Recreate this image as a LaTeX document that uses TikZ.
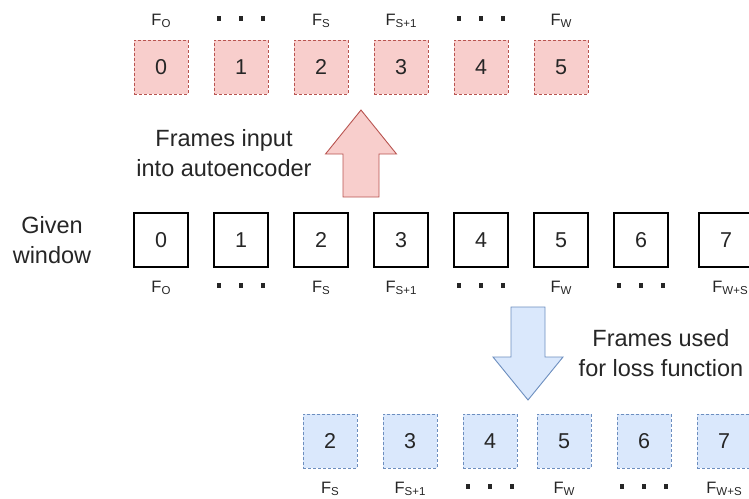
\documentclass[tikz,border=0pt]{standalone}
\usepackage{fontspec}
\setmainfont{Liberation Sans}
\definecolor{redfill}{HTML}{F8CECC}
\definecolor{redline}{HTML}{B85450}
\definecolor{bluefill}{HTML}{DAE8FC}
\definecolor{blueline}{HTML}{6C8EBF}
\definecolor{txt}{HTML}{262626}
\newcommand{\Flab}[1]{{\fontsize{16.5}{16.5}\selectfont F}\raisebox{-2.5pt}{\fontsize{11.5}{11.5}\selectfont #1}}
\newcommand{\sqdots}{\rule{4.5pt}{4.5pt}\hspace{17.5pt}\rule{4.5pt}{4.5pt}\hspace{17.5pt}\rule{4.5pt}{4.5pt}}
\begin{document}
\begin{tikzpicture}[x=1pt,y=-1pt,
  framebox/.style={rectangle, minimum size=54pt, inner sep=0pt, text=txt, font=\fontsize{21.5}{21.5}\selectfont},
  redbox/.style={framebox, draw=redline, fill=redfill, line width=0.9pt, dash pattern=on 3pt off 2pt},
  bluebox/.style={framebox, draw=blueline, fill=bluefill, line width=0.9pt, dash pattern=on 3pt off 2pt},
  blkbox/.style={framebox, draw=black, fill=white, line width=1.1pt},
  flabel/.style={anchor=base, inner sep=0pt, text=txt},
  dotsnode/.style={inner sep=0pt, text=txt},
  caption/.style={align=center, text=txt, font=\fontsize{23.5}{30}\selectfont, inner sep=0pt}]
\useasboundingbox (0,0) rectangle (749,498);
\clip (0,0) rectangle (749,498);

% top red row
\foreach \i in {0,...,5} {
  \node[redbox] (r\i) at (161+80*\i,67) {\i};
}
\node[flabel] (rl0) at (161,25) {\Flab{O}};
\node[dotsnode] (rl1) at (241,18.5) {\sqdots};
\node[flabel] (rl2) at (321,25) {\Flab{S}};
\node[flabel] (rl3) at (401,25) {\Flab{S+1}};
\node[dotsnode] (rl4) at (481,18.5) {\sqdots};
\node[flabel] (rl5) at (561,25) {\Flab{W}};

% middle black row
\foreach \i/\x in {0/161,1/241,2/321,3/401,4/481,5/561,6/641,7/726} {
  \node[blkbox] (b\i) at (\x,240) {\i};
}
\node[flabel] (bl0) at (161,292) {\Flab{O}};
\node[dotsnode] (bl1) at (241,285.5) {\sqdots};
\node[flabel] (bl2) at (321,292) {\Flab{S}};
\node[flabel] (bl3) at (401,292) {\Flab{S+1}};
\node[dotsnode] (bl4) at (481,285.5) {\sqdots};
\node[flabel] (bl5) at (561,292) {\Flab{W}};
\node[dotsnode] (bl6) at (641,285.5) {\sqdots};
\node[flabel] (bl7) at (730,292) {\Flab{W+S}};

% bottom blue row
\foreach \i/\x in {2/330,3/410,4/490,5/564,6/644,7/724} {
  \node[bluebox] (u\i) at (\x,441) {\i};
}
\node[flabel] (ul2) at (330,493) {\Flab{S}};
\node[flabel] (ul3) at (410,493) {\Flab{S+1}};
\node[dotsnode] (ul4) at (490,486.5) {\sqdots};
\node[flabel] (ul5) at (564,493) {\Flab{W}};
\node[dotsnode] (ul6) at (644,486.5) {\sqdots};
\node[flabel] (ul7) at (724,493) {\Flab{W+S}};

% captions
\node[caption] (given) at (52,240) {Given\\window};
\node[caption] (inp) at (224,153) {Frames input\\into autoencoder};
\node[caption] (loss) at (661,353) {Frames used\\for loss function};

% block arrows
\draw[draw=redline, fill=redfill, line width=0.9pt, line join=miter]
  (361,110) -- (396.5,154) -- (379,154) -- (379,197) -- (343,197) -- (343,154) -- (325.5,154) -- cycle;
\draw[draw=blueline, fill=bluefill, line width=0.9pt, line join=miter]
  (511,307) -- (545,307) -- (545,357) -- (563,357) -- (528,400) -- (493,357) -- (511,357) -- cycle;
\end{tikzpicture}
\end{document}
